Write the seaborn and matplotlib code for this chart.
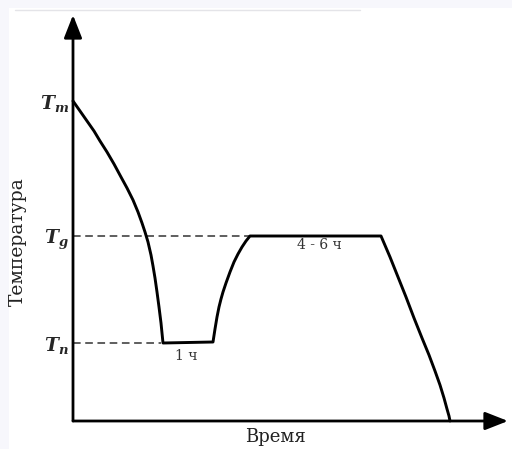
import matplotlib
matplotlib.use("Agg")
import matplotlib.pyplot as plt
from matplotlib.patches import Rectangle
import seaborn as sns
import pandas as pd

# Heat-treatment profile: time (arbitrary units) vs temperature (arbitrary units)
# cooling from the melt, hold, reheating, long hold, final cooling
time = [0, 7, 14, 21, 27, 34, 41, 48, 54, 60, 65, 69, 72, 75, 78, 80, 82, 84, 86, 88, 89, 90,
        140, 142, 144, 146, 148, 150, 153, 157, 161, 165, 169, 173, 177,
        308, 317, 325, 333, 341, 349, 356, 362, 367, 371, 374, 376, 377]
temp = [320, 310, 300, 290, 280, 269, 257, 244, 233, 221, 209, 198, 189, 179, 166, 155, 143, 129, 114, 98, 88, 78,
        79, 92, 104, 114, 122, 129, 138, 149, 159, 167, 174, 180, 185,
        185, 164, 144, 124, 103, 83, 66, 50, 36, 23, 12, 5, 0]

# Characteristic temperature levels
level_values = [78, 185, 320]
level_labels = [r"$\mathbfit{T}_{\mathbfit{n}}$",
                r"$\mathbfit{T}_{\mathbfit{g}}$",
                r"$\mathbfit{T}_{\mathbfit{m}}$"]
# Dashed guide lines run from the axis to where the curve meets the level
guide_levels = [78, 185]
guide_ends = [88, 177]

# Holding-time annotations
hold_labels = ["1 ч", "4 - 6 ч"]
hold_x = [113, 246]
hold_y = [65, 176]

df = pd.DataFrame({"Время": time, "Температура": temp})

sns.set_theme(style="white")
plt.rcParams["font.family"] = ["DejaVu Serif"]
plt.rcParams["mathtext.fontset"] = "dejavuserif"

W, H = 512, 449
fig = plt.figure(figsize=(W / 100, H / 100), dpi=100, facecolor="white")

# light page margin along the top and left edges
band = "#f7f7fc"
fig.patches.append(Rectangle((0, 1 - 8 / H), 1, 8 / H, transform=fig.transFigure,
                             facecolor=band, edgecolor="none", zorder=-10))
fig.patches.append(Rectangle((0, 0), 9 / W, 1, transform=fig.transFigure,
                             facecolor=band, edgecolor="none", zorder=-10))
fig.add_artist(plt.Line2D([15 / W, 360 / W], [1 - 9.5 / H, 1 - 9.5 / H],
                          transform=fig.transFigure, color="#e4e4e8", lw=1.0,
                          zorder=-5))

ax = fig.add_axes([73 / W, 28 / H, 435 / W, 406 / H])
ax.set_facecolor("none")
ax.set_xlim(0, 435)
ax.set_ylim(0, 406)

sns.lineplot(data=df, x="Время", y="Температура", sort=False, estimator=None,
             color="black", lw=2.1, ax=ax, clip_on=False, zorder=3,
             solid_joinstyle="round")

for lvl, end in zip(guide_levels, guide_ends):
    ax.plot([0, end], [lvl, lvl], color="#333333", lw=1.1,
            dashes=(5, 3), zorder=2)

for s, x, y in zip(hold_labels, hold_x, hold_y):
    ax.text(x, y, s, ha="center", va="center", fontsize=10, color="#333333")

for sp in ax.spines.values():
    sp.set_visible(False)

# axes drawn as arrows
arrow = dict(arrowstyle="-|>,head_length=1.4,head_width=0.55", lw=2.0,
             color="black", shrinkA=0, shrinkB=0, mutation_scale=10)
ax.annotate("", xy=(1, 0), xytext=(0, 0), xycoords="axes fraction",
            textcoords="axes fraction", arrowprops=arrow)
ax.annotate("", xy=(0, 1), xytext=(0, 0), xycoords="axes fraction",
            textcoords="axes fraction", arrowprops=arrow)

ax.set_xticks([])
ax.set_yticks(level_values)
ax.set_yticklabels(level_labels, fontsize=13.5)
ax.tick_params(axis="y", length=0, pad=3)

ax.set_xlabel("Время", fontsize=13, color="#222222")
ax.xaxis.set_label_coords(202 / 435, -7 / 406)
ax.set_ylabel("Температура", fontsize=13.5, color="#222222")
ax.yaxis.set_label_coords(-46 / 435, 0.443)

fig.savefig("out.png", dpi=100, facecolor="white")
